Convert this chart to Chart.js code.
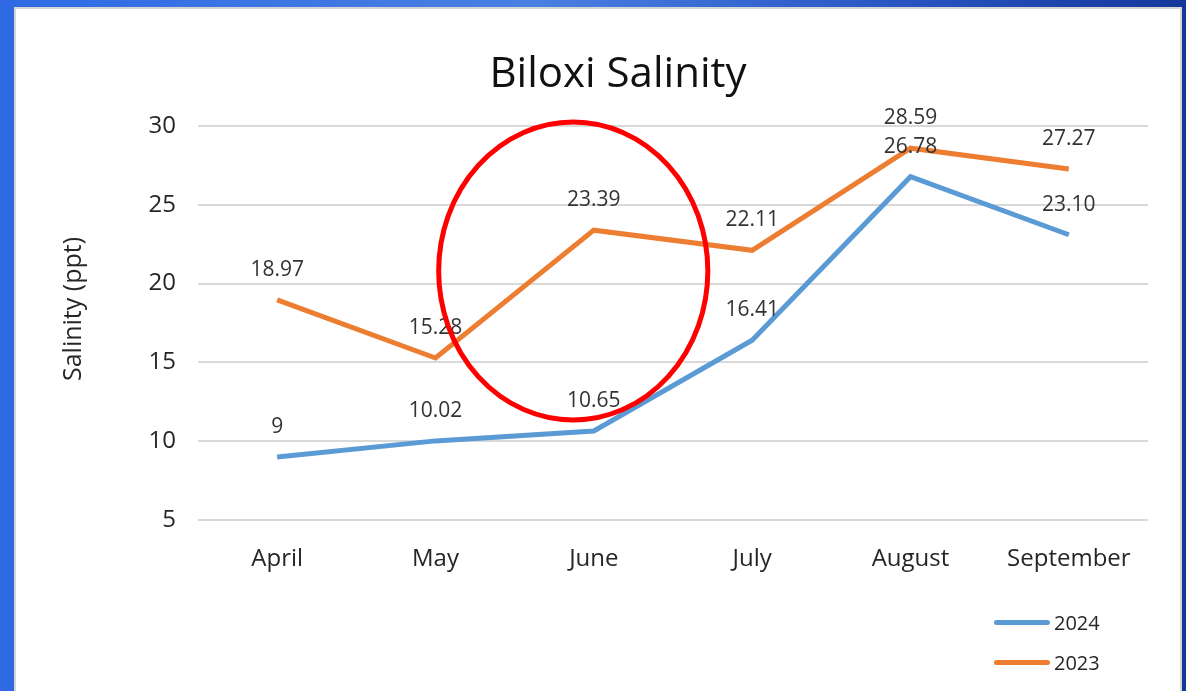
<!DOCTYPE html>
<html>
<head>
<meta charset="utf-8">
<script src="https://cdn.jsdelivr.net/npm/chart.js@4.4.1/dist/chart.umd.min.js"></script>
<style>
  html, body { margin: 0; padding: 0; }
  body {
    width: 1186px; height: 691px; overflow: hidden; position: relative;
    background: linear-gradient(90deg, #2f6ae4 0%, #4a80e2 45%, #2a56c4 75%, #15379a 100%);
    font-family: "Open Sans", "Noto Sans", sans-serif;
  }
  #panel {
    position: absolute; left: 14px; top: 7px; width: 1168px; height: 690px;
    background: #fff; border: 2px solid #d6d6d6; box-sizing: border-box;
  }
  #chart { position: absolute; left: 0; top: 0; }
  #legend { position: absolute; left: 994px; top: 602px; font-size: 20px; color: #262626; }
  .item { display: flex; align-items: center; height: 40px; }
  .swatch { width: 56px; height: 5px; border-radius: 3px; margin-right: 4px; }
</style>
</head>
<body>
<div id="panel"></div>
<canvas id="chart" width="1186" height="691"></canvas>
<div id="legend"></div>
<script>
/* ── Data ── */
const months = ['April', 'May', 'June', 'July', 'August', 'September'];
const salinity2024 = [9, 10.02, 10.65, 16.41, 26.78, 23.10];
const salinity2023 = [18.97, 15.28, 23.39, 22.11, 28.59, 27.27];
const labels2024 = ['9', '10.02', '10.65', '16.41', '26.78', '23.10'];
const labels2023 = ['18.97', '15.28', '23.39', '22.11', '28.59', '27.27'];
const yTicks = [5, 10, 15, 20, 25, 30];

// highlight ring, in category index / salinity units
const ringBox = { x0: 1.02, x1: 2.72, y0: 11.35, y1: 30.25 };

const BLUE = '#5b9bd5';
const ORANGE = '#ed7d31';
const FONT = '"Open Sans", "Noto Sans", sans-serif';

/* ── Titles (chart + y axis) ── */
const titles = {
  id: 'titles',
  afterDraw(chart) {
    const ctx = chart.ctx;
    ctx.save();
    ctx.textAlign = 'center';
    ctx.textBaseline = 'middle';
    ctx.fillStyle = '#111';
    ctx.font = '42px ' + FONT;
    ctx.fillText('Biloxi Salinity', 618, 75);
    ctx.fillStyle = '#262626';
    ctx.font = '25px ' + FONT;
    ctx.translate(74, 309);
    ctx.rotate(-Math.PI / 2);
    ctx.fillText('Salinity (ppt)', 0, 0);
    ctx.restore();
  }
};

/* ── Point labels ── */
const pointLabels = {
  id: 'pointLabels',
  afterDatasetsDraw(chart) {
    const ctx = chart.ctx;
    ctx.save();
    ctx.font = '21px ' + FONT;
    ctx.fillStyle = '#333';
    ctx.textAlign = 'center';
    ctx.textBaseline = 'middle';
    chart.data.datasets.forEach((ds, i) => {
      chart.getDatasetMeta(i).data.forEach((pt, j) => {
        ctx.fillText(ds.pointText[j], pt.x, pt.y - 30);
      });
    });
    ctx.restore();
  }
};

/* ── Red ring ── */
const ring = {
  id: 'ring',
  afterDraw(chart) {
    const xs = chart.scales.x, ys = chart.scales.y;
    const p0 = xs.getPixelForValue(0), step = xs.getPixelForValue(1) - p0;
    const left = p0 + ringBox.x0 * step, right = p0 + ringBox.x1 * step;
    const top = ys.getPixelForValue(ringBox.y1), bottom = ys.getPixelForValue(ringBox.y0);
    const ctx = chart.ctx;
    ctx.save();
    ctx.strokeStyle = '#ff0000';
    ctx.lineWidth = 5;
    ctx.beginPath();
    ctx.ellipse((left + right) / 2, (top + bottom) / 2, (right - left) / 2, (bottom - top) / 2, 0, 0, Math.PI * 2);
    ctx.stroke();
    ctx.restore();
  }
};

const chart = new Chart(document.getElementById('chart'), {
  type: 'line',
  data: {
    labels: months,
    datasets: [
      { label: '2024', data: salinity2024, pointText: labels2024, borderColor: BLUE, backgroundColor: BLUE },
      { label: '2023', data: salinity2023, pointText: labels2023, borderColor: ORANGE, backgroundColor: ORANGE }
    ]
  },
  options: {
    responsive: false,
    animation: false,
    layout: { padding: { left: 15, right: 38, top: 126, bottom: 0 } },
    elements: {
      line: { borderWidth: 5, tension: 0, borderJoinStyle: 'miter' },
      point: { radius: 0, hoverRadius: 0 }
    },
    plugins: {
      legend: { display: false },
      tooltip: { enabled: false },
      title: { display: false }
    },
    scales: {
      x: {
        offset: true,
        grid: { display: false, drawTicks: false },
        border: { display: false },
        ticks: { color: '#262626', padding: 25, font: { size: 24, family: FONT } },
        afterFit: s => { s.height = 171; }
      },
      y: {
        min: yTicks[0],
        max: yTicks[yTicks.length - 1],
        afterBuildTicks: s => { s.ticks = yTicks.map(v => ({ value: v })); },
        grid: { color: '#d9d9d9', lineWidth: 2, drawTicks: false },
        border: { display: false },
        ticks: { color: '#262626', padding: 22, font: { size: 24, family: FONT } },
        afterFit: s => { s.width = 183; }
      }
    }
  },
  plugins: [pointLabels, ring, titles]
});

/* ── Legend ── */
const legend = document.getElementById('legend');
chart.data.datasets.forEach(ds => {
  const item = document.createElement('div');
  item.className = 'item';
  item.innerHTML = '<span class="swatch" style="background:' + ds.borderColor + '"></span><span>' + ds.label + '</span>';
  legend.appendChild(item);
});
</script>
</body>
</html>
